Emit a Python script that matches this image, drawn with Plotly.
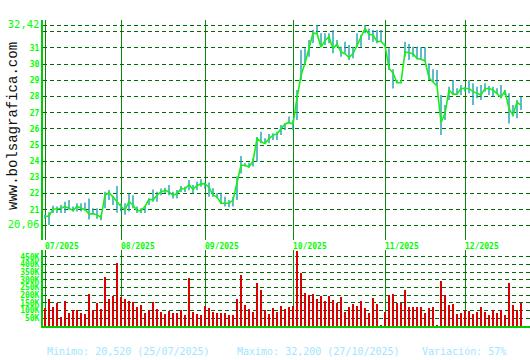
import pandas as pd
import plotly.graph_objects as go

# ---------------- data ----------------
dates = pd.bdate_range("2025-07-07", "2025-12-19")

close = [20.60, 20.60, 21.05, 21.05, 21.10, 21.20, 21.10, 20.95, 21.20, 21.10,
         21.00, 20.75, 20.75, 20.70, 20.52, 21.90, 22.05, 21.80, 21.50, 21.20,
         21.00, 21.50, 21.30, 20.95, 20.95, 21.20, 21.65, 21.60, 21.90, 22.10,
         22.20, 22.10, 21.90, 22.00, 22.30, 22.30, 22.55, 22.25, 22.50, 22.60,
         22.60, 22.40, 21.90, 21.80, 21.40, 21.40, 21.40, 21.60, 22.60, 23.75,
         23.75, 23.65, 24.00, 25.40, 25.20, 25.10, 25.40, 25.60, 25.70, 26.00,
         26.30, 26.40, 26.30, 27.90, 29.30, 30.05, 30.90, 31.90, 31.90, 31.05,
         31.45, 31.70, 30.95, 31.25, 30.75, 30.65, 30.40, 30.65, 31.15, 31.65,
         32.20, 31.85, 31.80, 31.40, 31.40, 31.15, 29.75, 29.45, 28.85, 28.85,
         30.75, 30.70, 30.65, 30.35, 30.30, 30.20, 29.15, 28.90, 28.65, 26.40,
         26.95, 28.40, 28.15, 28.15, 28.50, 28.50, 28.50, 28.30, 28.20, 28.10,
         28.50, 28.50, 28.40, 28.20, 27.95, 28.35, 27.25, 26.85, 27.65, 27.45]

high = [20.70, 20.85, 21.25, 21.20, 21.30, 21.50, 21.60, 21.20, 21.40, 21.40,
        21.45, 21.70, 21.10, 21.10, 20.70, 22.12, 22.22, 21.85, 22.47, 21.40,
        21.40, 22.00, 21.90, 21.20, 21.10, 21.25, 21.70, 22.26, 22.12, 22.32,
        22.36, 22.53, 22.12, 22.22, 22.47, 22.43, 22.84, 22.53, 22.74, 22.88,
        22.70, 22.68, 22.33, 22.02, 22.06, 21.81, 21.61, 21.81, 23.05, 24.33,
        23.87, 23.91, 24.18, 25.50, 25.83, 25.42, 25.69, 25.73, 25.83, 26.24,
        26.34, 26.76, 26.55, 28.40, 30.88, 30.98, 31.49, 32.11, 32.42, 31.91,
        31.91, 31.91, 32.11, 31.49, 31.08, 31.39, 31.18, 31.08, 31.91, 31.80,
        32.42, 32.20, 32.11, 32.11, 32.11, 31.29, 30.98, 29.68, 29.02, 28.92,
        31.39, 31.25, 31.08, 31.08, 31.04, 31.04, 30.05, 29.68, 29.64, 28.10,
        27.48, 28.61, 29.02, 28.51, 28.71, 28.61, 29.02, 28.82, 28.61, 28.71,
        28.82, 28.65, 28.61, 28.51, 28.71, 28.40, 28.20, 27.48, 27.79, 27.99]

low = [20.45, 20.06, 20.80, 20.80, 20.80, 20.80, 21.00, 20.90, 20.90, 20.90,
       20.95, 20.40, 20.70, 20.45, 20.35, 21.10, 21.60, 21.30, 20.82, 20.90,
       20.70, 20.90, 21.10, 20.80, 20.80, 20.80, 21.30, 21.50, 21.50, 21.90,
       22.00, 21.90, 21.70, 21.70, 22.10, 22.10, 22.20, 22.00, 22.20, 22.43,
       22.30, 21.81, 21.81, 21.71, 21.36, 21.20, 21.15, 21.20, 21.61, 23.25,
       23.67, 23.62, 23.67, 23.97, 25.11, 25.07, 25.11, 25.31, 25.31, 25.62,
       25.93, 26.34, 25.93, 26.55, 29.02, 30.05, 30.46, 31.29, 31.91, 31.08,
       31.18, 31.29, 30.67, 31.08, 30.46, 30.67, 30.26, 30.36, 31.08, 31.08,
       31.91, 31.49, 31.39, 31.29, 31.40, 31.08, 29.64, 28.50, 28.82, 28.82,
       30.46, 30.26, 30.46, 30.30, 30.26, 30.20, 29.02, 28.90, 28.65, 25.62,
       26.55, 27.79, 28.10, 28.10, 28.10, 28.30, 28.20, 27.48, 27.89, 27.79,
       28.30, 28.10, 28.00, 28.20, 27.89, 28.10, 26.34, 26.76, 26.65, 27.17]

volume_k = [115, 173, 123, 147, 58, 162, 84, 104, 102, 84,
            78, 210, 104, 147, 110, 320, 175, 195, 409, 190,
            175, 165, 157, 123, 136, 86, 102, 157, 110, 91,
            80, 97, 86, 86, 102, 71, 311, 93, 80, 71,
            130, 117, 93, 86, 86, 86, 71, 71, 175, 333,
            136, 108, 93, 279, 234, 104, 80, 117, 93, 130,
            108, 123, 130, 487, 346, 214, 202, 208, 175, 195,
            162, 195, 168, 151, 188, 93, 123, 145, 130, 162,
            115, 84, 180, 145, 5, 93, 199, 210, 147, 147,
            234, 123, 123, 123, 123, 84, 117, 123, 5, 292,
            199, 136, 145, 76, 86, 100, 97, 78, 93, 123,
            91, 71, 102, 86, 102, 71, 281, 136, 102, 151]

price_ticks = [20.06, 21, 22, 23, 24, 25, 26, 27, 28, 29, 30, 31, 32, 32.42]
price_labels = ["20,06", "21", "22", "23", "24", "25", "26", "27", "28", "29",
                "30", "31", "", "32,42"]
vol_ticks = [50, 100, 150, 200, 250, 300, 350, 400, 450]
vol_labels = ["50K", "100K", "150K", "200K", "250K", "300K", "350K", "400K", "450K"]

footer = ["Minimo: 20,520 (25/07/2025)", "Maximo: 32,200 (27/10/2025)", "Variación: 57%"]
watermark = "www.bolsagrafica.com"

# ---------------- derived ----------------
n = len(dates)
xi = list(range(n))
month_idx = [i for i in range(n) if i == 0 or dates[i].month != dates[i - 1].month]
month_txt = [dates[i].strftime("%m/%Y") for i in month_idx]

seg_x, seg_y = [], []
for i in range(n):
    seg_x += [i, i, None]
    seg_y += [low[i], high[i], None]

def fmt_price(t):
    if t in ("20,06", "32,42"):
        return '<span style="font-size:10.5px;font-weight:normal">' + t + "</span>"
    return "<b>" + t + "</b>" if t else ""

GREEN = "#00ff00"
AXIS = "#00cc00"
GRID = "#006a00"
MONTH = "#0a880a"
MONO = "DejaVu Sans Mono"

fig = go.Figure()
fig.add_trace(go.Scatter(x=seg_x, y=seg_y, mode="lines",
                         line=dict(color="#1ea0b2", width=1.4),
                         hoverinfo="skip", xaxis="x", yaxis="y"))
fig.add_trace(go.Scatter(x=xi, y=close, mode="lines",
                         line=dict(color="#14f014", width=1.6),
                         xaxis="x", yaxis="y"))
fig.add_trace(go.Bar(x=xi, y=volume_k, width=0.22,
                     marker=dict(color="#dd0000", line=dict(width=0)),
                     xaxis="x2", yaxis="y2"))

W, H = 530, 360
L, R, T, B = 43, 0, 20, 34
PW, PH = W - L - R, H - T - B

def px_x(p):
    return (p - L) / PW

def px_y(p):
    return (H - B - p) / PH

fig.update_layout(
    width=W, height=H,
    margin=dict(l=L, r=R, t=T, b=B, pad=0),
    paper_bgcolor="white", plot_bgcolor="white",
    showlegend=False, bargap=0,
    xaxis=dict(domain=[0, 1], range=[-0.5, 121.25], anchor="y",
               tickvals=month_idx, ticktext=["<b>" + t + "</b>" for t in month_txt],
               tickfont=dict(family=MONO, size=8, color=GREEN),
               ticklabelposition="outside right", ticks="", ticklen=0,
               showgrid=True, gridcolor=MONTH, gridwidth=1,
               zeroline=False, showline=False),
    yaxis=dict(domain=[px_y(240), 1], range=[19.133, 32.729], anchor="x",
               tickvals=price_ticks, ticktext=[fmt_price(t) for t in price_labels],
               tickfont=dict(family=MONO, size=8, color=GREEN),
               ticks="", showgrid=True, gridcolor=GRID, gridwidth=1, griddash="4px,3px",
               showline=True, linecolor=AXIS, linewidth=2, zeroline=False),
    xaxis2=dict(domain=[0, 1], range=[-0.5, 121.25], anchor="y2",
                tickvals=month_idx, showticklabels=False, ticks="",
                showgrid=True, gridcolor=MONTH, gridwidth=1,
                zeroline=False, showline=True, linecolor=AXIS, linewidth=2),
    yaxis2=dict(domain=[0, px_y(250)], range=[0, 494], anchor="x2",
                tickvals=vol_ticks, ticktext=["<b>" + t + "</b>" for t in vol_labels],
                tickfont=dict(family=MONO, size=8, color=GREEN),
                ticks="", showgrid=True, gridcolor=GRID, gridwidth=1, griddash="4px,3px",
                showline=True, linecolor=AXIS, linewidth=2, zeroline=False),
)

fig.add_annotation(text=watermark, textangle=-90, xref="paper", yref="paper",
                   x=px_x(13), y=px_y(126), xanchor="center", yanchor="middle",
                   showarrow=False, font=dict(family="Liberation Mono", size=14, color="#111111"))

for txt, xp in zip(footer, [45, 235, 420]):
    fig.add_annotation(text=txt, xref="paper", yref="paper",
                       x=px_x(xp), y=px_y(351), xanchor="left", yanchor="middle",
                       showarrow=False, font=dict(family=MONO, size=10, color="#9ee6ff"))

fig.write_html("out.html")
